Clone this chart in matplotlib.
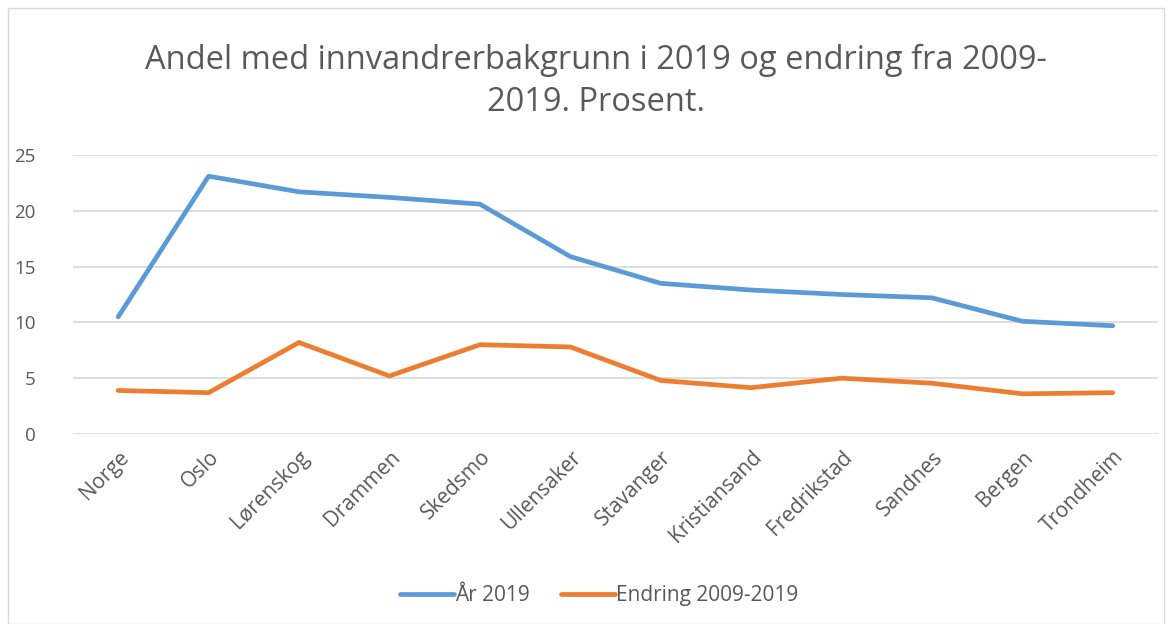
import matplotlib
matplotlib.use("Agg")
import matplotlib.pyplot as plt
from matplotlib.patches import Rectangle

categories = ["Norge", "Oslo", "Lørenskog", "Drammen", "Skedsmo", "Ullensaker",
              "Stavanger", "Kristiansand", "Fredrikstad", "Sandnes", "Bergen", "Trondheim"]
aar_2019 = [10.5, 23.1, 21.7, 21.2, 20.6, 15.9, 13.5, 12.9, 12.5, 12.2, 10.1, 9.7]
endring = [3.9, 3.7, 8.2, 5.2, 8.0, 7.8, 4.8, 4.15, 5.0, 4.55, 3.6, 3.7]
yticks = [0, 5, 10, 15, 20, 25]
title = "Andel med innvandrerbakgrunn i 2019 og endring fra 2009-\n2019. Prosent."
series_names = ["År 2019", "Endring 2009-2019"]

plt.rcParams['font.family'] = ['Open Sans', 'DejaVu Sans']
gray = "#595959"

fig = plt.figure(figsize=(11.75, 6.24), dpi=100)
fig.patches.append(Rectangle((0.007, 0.0), 0.984, 0.987, transform=fig.transFigure,
                             fill=False, edgecolor="#d9d9d9", linewidth=1))
ax = fig.add_axes([0.0621, 0.3045, 0.9234, 0.4471])

x = list(range(len(categories)))
l1, = ax.plot(x, aar_2019, color="#5B9BD5", lw=3.4, solid_capstyle="round", solid_joinstyle="round")
l2, = ax.plot(x, endring, color="#ED7D31", lw=3.4, solid_capstyle="round", solid_joinstyle="round")

ax.set_xlim(-0.5, len(categories) - 0.5)
ax.set_ylim(0, 25)
ax.set_yticks(yticks)
ax.yaxis.grid(True, color="#d9d9d9", lw=1.2)
ax.set_axisbelow(True)
for s in ax.spines.values():
    s.set_visible(False)
ax.tick_params(axis="both", length=0, colors=gray, labelsize=13.5)
ax.tick_params(axis="y", pad=27)
ax.set_xticks(x)
ax.set_xticklabels(categories, rotation=45, ha="right", rotation_mode="anchor")
ax.tick_params(axis="x", pad=9, labelsize=15)

fig.text(0.507, 0.87, title, ha="center", va="center", fontsize=23.5, color=gray,
         linespacing=1.35)

fig.legend([l1, l2], series_names, loc="center", bbox_to_anchor=(0.51, 0.045), ncol=2,
           frameon=False, fontsize=15, labelcolor=gray, handlelength=2.6,
           handletextpad=0.05, columnspacing=1.5)

fig.savefig("out.png", dpi=100)
